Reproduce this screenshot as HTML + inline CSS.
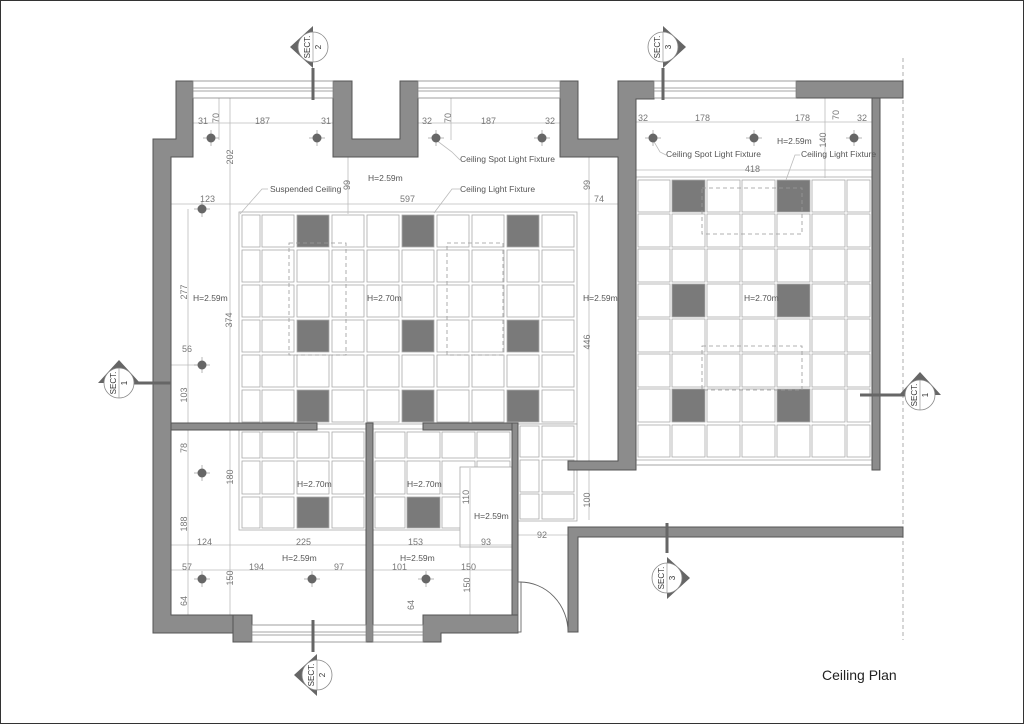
<!DOCTYPE html>
<html><head><meta charset="utf-8">
<style>
html,body{margin:0;padding:0;background:#fff;}
svg{display:block;}
text{font-family:"Liberation Sans",sans-serif;fill:#555;}
.d{font-size:9px;fill:#777;}
.l{font-size:8.5px;fill:#555;}
</style></head><body>
<svg id="s" width="1024" height="724" viewBox="0 0 1024 724" xmlns="http://www.w3.org/2000/svg">
<rect x="0.5" y="0.5" width="1023" height="723" fill="#fff" stroke="#333"/>
<g id="tiles"></g>
<g fill="none" stroke="#999" stroke-dasharray="4,3" stroke-width="0.8">
<rect x="289" y="243" width="57" height="112"/>
<rect x="447" y="243" width="56" height="112"/>
<rect x="702" y="188" width="100" height="46"/>
<rect x="702" y="346" width="100" height="44"/>
<line x1="903" y1="58" x2="903" y2="640"/>
</g>
<g stroke="#bbb" stroke-width="0.8" fill="none">
<line x1="171" y1="204" x2="636" y2="204"/>
<line x1="193" y1="123" x2="333" y2="123"/>
<line x1="418" y1="123" x2="560" y2="123"/>
<line x1="636" y1="122" x2="872" y2="122"/>
<line x1="636" y1="170" x2="872" y2="170"/>
<line x1="230" y1="98" x2="230" y2="423"/>
<line x1="188" y1="209" x2="188" y2="423"/>
<line x1="219" y1="98" x2="219" y2="140"/>
<line x1="451" y1="98" x2="451" y2="140"/>
<line x1="348" y1="157" x2="348" y2="214"/>
<line x1="589" y1="157" x2="589" y2="520"/>
<line x1="825" y1="98" x2="825" y2="178"/>
<line x1="171" y1="545" x2="512" y2="545"/>
<line x1="171" y1="570" x2="512" y2="570"/>
<line x1="188" y1="430" x2="188" y2="615"/>
<line x1="230" y1="430" x2="230" y2="615"/>
<line x1="470" y1="468" x2="470" y2="615"/>
<line x1="518" y1="535" x2="568" y2="535"/>
<line x1="171" y1="365" x2="200" y2="365"/>
<polyline points="460,160 452,152 436,140"/>
<polyline points="460,189 452,189 434,213"/>
<polyline points="268,189 262,189 240,214"/>
<polyline points="666,155 660,152 653,140"/>
<polyline points="800,155 795,155 786,180"/>
</g>
<g fill="#8c8c8c" stroke="#555" stroke-width="1">
<path d="M153,139 H176 V81 H193 V157 H171 V615 H233 V633 H153 Z"/>
<rect x="233" y="615" width="19" height="27"/>
<path d="M333,81 H352 V139 H400 V81 H418 V157 H333 Z"/>
<path d="M560,81 H578 V139 H618 V81 H654 V99 H636 V470 H568 V461 H618 V157 H560 Z"/>
<rect x="796" y="81" width="107" height="17"/>
<rect x="872" y="98" width="8" height="372"/>
<rect x="171" y="423" width="146" height="7"/>
<rect x="423" y="423" width="95" height="7"/>
<rect x="366" y="423" width="7" height="219"/>
<rect x="512" y="423" width="6" height="210"/>
<path d="M423,615 H518 V633 H441 V642 H423 Z"/>
<path d="M568,527 H903 V537 H578 V632 H568 Z"/>
</g>
<g fill="#fff" stroke="#888" stroke-width="0.8">
<rect x="193" y="81" width="140" height="17"/><line x1="193" y1="88" x2="333" y2="88"/><line x1="193" y1="91" x2="333" y2="91"/>
<rect x="418" y="81" width="142" height="17"/><line x1="418" y1="88" x2="560" y2="88"/><line x1="418" y1="91" x2="560" y2="91"/>
<rect x="654" y="81" width="142" height="17"/><line x1="654" y1="88" x2="796" y2="88"/><line x1="654" y1="91" x2="796" y2="91"/>
<rect x="252" y="625" width="114" height="17"/><line x1="252" y1="632" x2="366" y2="632"/><line x1="252" y1="635" x2="366" y2="635"/>
<rect x="373" y="625" width="50" height="17"/><line x1="373" y1="632" x2="423" y2="632"/><line x1="373" y1="635" x2="423" y2="635"/>
<line x1="636" y1="465" x2="872" y2="465"/>
</g>
<g fill="none" stroke="#666" stroke-width="0.9">
<rect x="518" y="582" width="3" height="50" fill="#fff"/>
<path d="M520,582 A48,50 0 0 1 568,632"/>
</g>
<g id="spots" fill="#666" stroke="#999" stroke-width="0.7"></g>
<g id="marks"></g>
<g class="d">
<text x="198" y="124" class="d">31</text><text x="255" y="124" class="d">187</text><text x="321" y="124" class="d">31</text>
<text x="422" y="124" class="d">32</text><text x="481" y="124" class="d">187</text><text x="545" y="124" class="d">32</text>
<text x="200" y="202" class="d">123</text><text x="400" y="202" class="d">597</text><text x="594" y="202" class="d">74</text>
<text x="638" y="121" class="d">32</text><text x="695" y="121" class="d">178</text><text x="795" y="121" class="d">178</text><text x="857" y="121" class="d">32</text>
<text x="745" y="172" class="d">418</text><text x="182" y="352" class="d">56</text>
<text x="197" y="545" class="d">124</text><text x="296" y="545" class="d">225</text><text x="408" y="545" class="d">153</text><text x="481" y="545" class="d">93</text><text x="537" y="538" class="d">92</text>
<text x="182" y="570" class="d">57</text><text x="249" y="570" class="d">194</text><text x="334" y="570" class="d">97</text><text x="392" y="570" class="d">101</text><text x="461" y="570" class="d">150</text>
</g>
<g class="d" id="rot"></g>
<g class="l">
<text x="460" y="162" class="l">Ceiling Spot Light Fixture</text>
<text x="460" y="192" class="l">Ceiling Light Fixture</text>
<text x="270" y="192" class="l">Suspended Ceiling</text>
<text x="666" y="157" class="l">Ceiling Spot Light Fixture</text>
<text x="801" y="157" class="l">Ceiling Light Fixture</text>
<text x="368" y="181" class="l">H=2.59m</text>
<text x="193" y="301" class="l">H=2.59m</text>
<text x="367" y="301" class="l">H=2.70m</text>
<text x="583" y="301" class="l">H=2.59m</text>
<text x="744" y="301" class="l">H=2.70m</text>
<text x="777" y="144" class="l">H=2.59m</text>
<text x="297" y="487" class="l">H=2.70m</text>
<text x="407" y="487" class="l">H=2.70m</text>
<text x="474" y="519" class="l">H=2.59m</text>
<text x="282" y="561" class="l">H=2.59m</text>
<text x="400" y="561" class="l">H=2.59m</text>
</g>
<text x="822" y="680" style="font-size:14px;fill:#222">Ceiling Plan</text>
</svg>
<script>
var NS="http://www.w3.org/2000/svg";
function el(p,t,a,txt){var e=document.createElementNS(NS,t);for(var k in a)e.setAttribute(k,a[k]);if(txt)e.textContent=txt;p.appendChild(e);return e;}
var T=document.getElementById('tiles');
function grid(x0,y0,x1,y1,cols,rows,dark){
 el(T,'rect',{x:x0,y:y0,width:x1-x0,height:y1-y0,fill:'#fff',stroke:'#aaa','stroke-width':0.8});
 for(var r=0;r<rows.length;r++)for(var c=0;c<cols.length;c++){
  var d=dark.some(function(p){return p[0]==r&&p[1]==c;});
  el(T,'rect',{x:cols[c][0],y:rows[r][0],width:cols[c][1]-cols[c][0],height:rows[r][1]-rows[r][0],fill:d?'#7a7a7a':'#fff',stroke:'#aaa','stroke-width':0.8});
 }
}
var mc=[[242,260],[262,294],[297,329],[332,364],[367,399],[402,434],[437,469],[472,504],[507,539],[542,574]];
var mr=[[215,247],[250,282],[285,317],[320,352],[355,387],[390,422]];
grid(239,212,577,424,mc,mr,[[0,2],[0,5],[0,8],[3,2],[3,5],[3,8],[5,2],[5,5],[5,8]]);
grid(518,424,577,521,[[520,539],[542,574]],[[426,457],[460,492],[494,519]],[]);
var lr=[[432,458],[461,494],[497,528]];
grid(239,429,366,530,[[242,260],[262,294],[297,329],[332,364]],lr,[[2,2]]);
grid(373,429,512,530,[[375,405],[407,440],[442,475],[477,510]],lr,[[2,1]]);
el(T,'rect',{x:460,y:467,width:52,height:80,fill:'#fff',stroke:'#aaa','stroke-width':0.8});
var rc=[[638,670],[672,705],[707,740],[742,775],[777,810],[812,845],[847,870]];
var rr=[[180,212],[214,247],[249,282],[284,317],[319,352],[354,387],[389,422],[425,457]];
grid(636,177,872,460,rc,rr,[[0,1],[0,4],[3,1],[3,4],[6,1],[6,4]]);
var S=document.getElementById('spots');
[[211,138],[317,138],[436,138],[542,138],[202,209],[202,365],[653,138],[754,138],[854,138],[202,473],[202,579],[312,579],[426,579]].forEach(function(p){
 el(S,'line',{x1:p[0]-8,y1:p[1],x2:p[0]+8,y2:p[1]});el(S,'line',{x1:p[0],y1:p[1]-8,x2:p[0],y2:p[1]+8});
 el(S,'circle',{cx:p[0],cy:p[1],r:4.5,fill:'#666',stroke:'none'});
});
var R=document.getElementById('rot');
[["70",219,118],["70",451,118],["202",233,157],["99",350,185],["99",590,185],["277",187,292],["374",232,320],["446",590,342],["103",187,395],
 ["140",826,140],["70",839,115],["78",187,448],["180",233,477],["188",187,524],["110",469,497],["100",590,500],["150",233,578],["150",470,585],["64",187,601],["64",414,605]].forEach(function(t){
 el(R,'text',{x:t[1],y:t[2],transform:'rotate(-90 '+t[1]+' '+t[2]+')','text-anchor':'middle',class:'d'},t[0]);
});
var M=document.getElementById('marks');
function mark(cx,cy,dir,num,lx1,ly1,lx2,ly2){
 el(M,'line',{x1:lx1,y1:ly1,x2:lx2,y2:ly2,stroke:'#666','stroke-width':3});
 var pts;
 if(dir=='L')pts=[[cx,cy-21],[cx-23,cy],[cx,cy+21]];
 if(dir=='R')pts=[[cx,cy-21],[cx+23,cy],[cx,cy+21]];
 if(dir=='U')pts=[[cx-21,cy],[cx,cy-23],[cx+21,cy]];
 el(M,'polygon',{points:pts.map(function(p){return p.join(',')}).join(' '),fill:'#666'});
 el(M,'circle',{cx:cx,cy:cy,r:15,fill:'#fff',stroke:'#888','stroke-width':0.8});
 el(M,'line',{x1:cx,y1:cy-15,x2:cx,y2:cy+15,stroke:'#888','stroke-width':0.6});
 el(M,'text',{x:cx-3,y:cy,transform:'rotate(-90 '+(cx-3)+' '+cy+')','text-anchor':'middle',style:'font-size:8px;fill:#333'},'SECT.');
 el(M,'text',{x:cx+8,y:cy,transform:'rotate(-90 '+(cx+8)+' '+cy+')','text-anchor':'middle',style:'font-size:8px;fill:#333'},num);
}
mark(313,47,'L','2',313,68,313,100);
mark(663,47,'R','3',663,68,663,100);
mark(119,383,'U','1',134,383,171,383);
mark(920,395,'U','1',860,395,905,395);
mark(317,675,'L','2',313,620,313,652);
mark(667,578,'R','3',667,523,667,553);
</script>
</body></html>
